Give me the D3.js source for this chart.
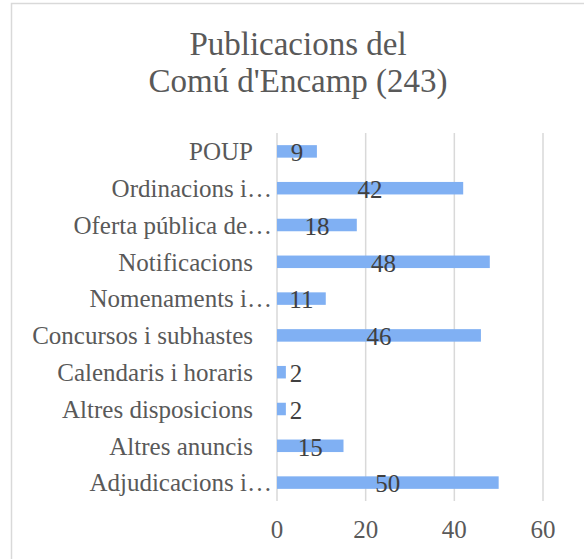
<!DOCTYPE html>
<html>
<head>
<meta charset="utf-8">
<script src="https://cdn.jsdelivr.net/npm/d3@7"></script>
<style>
  body { margin: 0; background: #fff; }
  text { font-family: "Liberation Serif", serif; }
</style>
</head>
<body>
<div id="chart"></div>
<script>
var svgWidth = 584;
var svgHeight = 559;

// data, top to bottom as drawn
var categories = ["POUP", "Ordinacions i…", "Oferta pública de…", "Notificacions",
  "Nomenaments i…", "Concursos i subhastes", "Calendaris i horaris",
  "Altres disposicions", "Altres anuncis", "Adjudicacions i…"];
var values = [9, 42, 18, 48, 11, 46, 2, 2, 15, 50];
var xTicks = [0, 20, 40, 60];
var titleLines = ["Publicacions del", "Comú d'Encamp (243)"];

var margin = { top: 133, right: 41, bottom: 58, left: 277 };
var width = svgWidth - margin.left - margin.right;
var height = svgHeight - margin.top - margin.bottom;

var svg = d3.select("#chart")
  .append("svg")
  .attr("width", svgWidth)
  .attr("height", svgHeight);

// outer chart border (runs off the right/bottom edge)
svg.append("rect")
  .attr("x", 11.5)
  .attr("y", 3.5)
  .attr("width", 620)
  .attr("height", 620)
  .attr("fill", "#fff")
  .attr("stroke", "#d9d9d9")
  .attr("stroke-width", 1.5);

svg.selectAll(".title")
  .data(titleLines)
  .enter()
  .append("text")
  .attr("class", "title")
  .attr("x", 298)
  .attr("y", (d, i) => 55 + i * 37)
  .attr("text-anchor", "middle")
  .attr("font-size", "33px")
  .attr("fill", "#595959")
  .text(d => d);

var chartGroup = svg.append("g")
  .attr("transform", `translate(${margin.left}, ${margin.top})`);

var xScale = d3.scaleLinear()
  .domain([0, 60])
  .range([0, width]);

var yScale = d3.scaleBand()
  .domain(categories)
  .range([0, height])
  .paddingInner(0.66)
  .paddingOuter(0.33);

// gridlines
chartGroup.selectAll(".grid")
  .data(xTicks)
  .enter()
  .append("line")
  .attr("class", "grid")
  .attr("x1", d => xScale(d))
  .attr("x2", d => xScale(d))
  .attr("y1", 0)
  .attr("y2", height)
  .attr("stroke", "#d9d9d9")
  .attr("stroke-width", 1.5);

// x tick labels
chartGroup.selectAll(".xtick")
  .data(xTicks)
  .enter()
  .append("text")
  .attr("class", "xtick")
  .attr("x", d => xScale(d))
  .attr("y", height + 37)
  .attr("text-anchor", "middle")
  .attr("font-size", "25px")
  .attr("fill", "#595959")
  .text(d => d);

// bars
chartGroup.selectAll(".bar")
  .data(values)
  .enter()
  .append("rect")
  .attr("class", "bar")
  .attr("x", xScale(0))
  .attr("y", (d, i) => yScale(categories[i]))
  .attr("width", d => xScale(d) - xScale(0))
  .attr("height", yScale.bandwidth())
  .attr("fill", "#80b0f3");

// category labels
chartGroup.selectAll(".cat")
  .data(categories)
  .enter()
  .append("text")
  .attr("class", "cat")
  .attr("x", d => d.endsWith("…") ? -5 : -24)
  .attr("y", d => yScale(d) + yScale.bandwidth() / 2)
  .attr("dy", "0.35em")
  .attr("text-anchor", "end")
  .attr("font-size", "25px")
  .attr("fill", "#595959")
  .text(d => d);

// data labels
chartGroup.selectAll(".val")
  .data(values)
  .enter()
  .append("text")
  .attr("class", "val")
  .attr("x", d => xScale(d) < 20 ? xScale(d) + 4 : xScale(d) / 2)
  .attr("y", (d, i) => yScale(categories[i]) + yScale.bandwidth() / 2 + 1)
  .attr("dy", "0.35em")
  .attr("text-anchor", d => xScale(d) < 20 ? "start" : "middle")
  .attr("font-size", "25px")
  .attr("fill", "#404040")
  .text(d => d);
</script>
</body>
</html>
